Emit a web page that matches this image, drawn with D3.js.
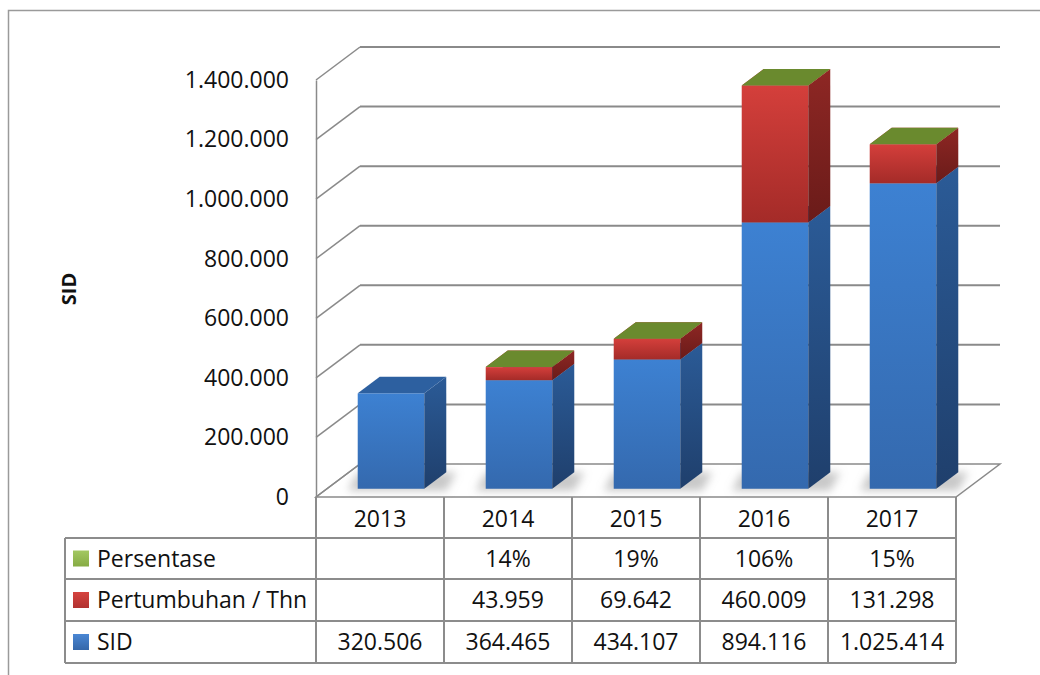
<!DOCTYPE html>
<html>
<head>
<meta charset="utf-8">
<script src="https://cdn.jsdelivr.net/npm/d3@7"></script>
<style>
  body { margin: 0; background: #fff; }
  svg { display: block; font-family: "Open Sans", "Liberation Sans", sans-serif; }
</style>
</head>
<body>
<div id="chart"></div>
<script>
// data
const years = ["2013", "2014", "2015", "2016", "2017"];
const sid = [320506, 364465, 434107, 894116, 1025414];
const pertumbuhan = [null, 43959, 69642, 460009, 131298];
const persentase = [null, 0.14, 0.19, 1.06, 0.15];
const yTicks = [0, 200000, 400000, 600000, 800000, 1000000, 1200000, 1400000];
const seriesNames = ["Persentase", "Pertumbuhan / Thn", "SID"];

const W = 1040, H = 675;
// 3d depth vector of the plot box
const DX = 44, DY = -33;
const FS = 23;

const idLocale = d3.formatLocale({ decimal: ",", thousands: ".", grouping: [3], currency: ["", ""] });
const fmtNum = idLocale.format(",d");
const fmtPct = d3.format(".0%");

const rows = years.map((yr, i) => ({
  year: yr,
  sid: sid[i],
  pert: pertumbuhan[i] || 0,
  pct: persentase[i] || 0
}));

const svg = d3.select("#chart").append("svg")
  .attr("width", W)
  .attr("height", H);

const defs = svg.append("defs");
function grad(id, c1, c2) {
  const g = defs.append("linearGradient").attr("id", id)
    .attr("x1", 0).attr("y1", 0).attr("x2", 0).attr("y2", 1);
  g.append("stop").attr("offset", "0%").attr("stop-color", c1);
  g.append("stop").attr("offset", "100%").attr("stop-color", c2);
}
grad("sidFront", "#3d81d2", "#3469ae");
grad("sidSide", "#2b5b97", "#1f3f6c");
grad("pertFront", "#d43f3b", "#a42b28");
grad("pertSide", "#8e2724", "#6a1b19");
grad("pctFront", "#80a23c", "#6a8a2e");
grad("pctSide", "#5d7826", "#4c6420");
grad("legGreen", "#a3c862", "#86ab44");
grad("legRed", "#d5433f", "#b13230");
grad("legBlue", "#4a87d4", "#3567a9");
defs.append("filter").attr("id", "blur")
  .attr("x", "-50%").attr("y", "-50%").attr("width", "200%").attr("height", "200%")
  .append("feGaussianBlur").attr("stdDeviation", 4);

const colors = {
  sid: { front: "url(#sidFront)", side: "url(#sidSide)", top: "#2d60a0" },
  pert: { front: "url(#pertFront)", side: "url(#pertSide)", top: "#b83431" },
  pct: { front: "url(#pctFront)", side: "url(#pctSide)", top: "#6a8a2e" }
};

// outer chart border
svg.append("rect")
  .attr("x", 8.5).attr("y", 10.5)
  .attr("width", W + 10).attr("height", H + 10)
  .attr("fill", "none").attr("stroke", "#9a9a9a").attr("stroke-width", 1.5);

// Scales (front plane)
const y = d3.scaleLinear().domain([0, 1400000]).range([497, 80]);
const cols = d3.scaleBand().domain(years).range([316, 956]);

const gridColor = "#8a8a8a";

// floor
const fy = y(0);
svg.append("polygon")
  .attr("points", [[316, fy], [956, fy], [956 + DX, fy + DY], [316 + DX, fy + DY]].join(" "))
  .attr("fill", "#fff").attr("stroke", gridColor).attr("stroke-width", 1.5);

// back wall gridlines and left wall diagonals
const grid = svg.append("g");
grid.selectAll("line.back")
  .data(yTicks.filter(d => d > 0))
  .join("line")
  .attr("class", "back")
  .attr("x1", 316 + DX).attr("x2", 956 + DX)
  .attr("y1", d => y(d) + DY).attr("y2", d => y(d) + DY)
  .attr("stroke", gridColor).attr("stroke-width", 2);
grid.selectAll("line.side")
  .data(yTicks)
  .join("line")
  .attr("class", "side")
  .attr("x1", 316).attr("x2", 316 + DX)
  .attr("y1", d => y(d)).attr("y2", d => y(d) + DY)
  .attr("stroke", gridColor).attr("stroke-width", 1.5);

// y axis
const yAxis = d3.axisLeft(y)
  .tickValues(yTicks)
  .tickSize(0)
  .tickSizeOuter(0)
  .tickPadding(27)
  .tickFormat(d => fmtNum(d));
const yG = svg.append("g")
  .attr("transform", "translate(316,0)")
  .call(yAxis);
yG.select(".domain").attr("stroke", gridColor).attr("stroke-width", 1.5);
yG.selectAll("text").attr("font-size", FS).attr("fill", "#111").attr("font-family", "Open Sans");

// axis title
svg.append("text")
  .attr("transform", "translate(76,289) rotate(-90)")
  .attr("text-anchor", "middle")
  .attr("font-size", 20)
  .attr("font-weight", "bold")
  .attr("fill", "#111")
  .text("SID");

// stacked 3d bars
const stack = d3.stack().keys(["sid", "pert", "pct"]);
const stacked = stack(rows);
const bw = cols.bandwidth();
const z0 = 0.25, zd = 0.5;

const shadowG = svg.append("g").attr("filter", "url(#blur)");
rows.forEach(r => {
  const bx0 = cols(r.year) + bw * 0.24 + DX * z0;
  const bx1 = bx0 + bw * 0.52;
  const by = y(0) + DY * z0;
  shadowG.append("polygon")
    .attr("points", [[bx0 - 10, by + 2], [bx1 + DX * zd, by + 2], [bx1 + DX * zd + 10, by + DY * zd], [bx0, by + DY * zd]].join(" "))
    .attr("fill", "#9a9a9a").attr("opacity", 0.55);
});

const barsG = svg.append("g");
years.forEach((yr, i) => {
  const g = barsG.append("g");
  const bx0 = cols(yr) + bw * 0.24 + DX * z0;
  const bx1 = bx0 + bw * 0.52;
  const ddx = DX * zd, ddy = DY * zd;
  stacked.forEach(layer => {
    const seg = layer[i];
    if (rows[i][layer.key] === 0) return;
    const c = colors[layer.key];
    const ya = y(seg[0]) + DY * z0;
    const yb = y(seg[1]) + DY * z0;
    // front
    g.append("rect")
      .attr("x", bx0).attr("y", yb)
      .attr("width", bx1 - bx0).attr("height", Math.max(0.01, ya - yb))
      .attr("fill", c.front);
    // side
    g.append("polygon")
      .attr("points", [[bx1, yb], [bx1 + ddx, yb + ddy], [bx1 + ddx, ya + ddy], [bx1, ya]].join(" "))
      .attr("fill", c.side);
    // top
    g.append("polygon")
      .attr("points", [[bx0, yb], [bx1, yb], [bx1 + ddx, yb + ddy], [bx0 + ddx, yb + ddy]].join(" "))
      .attr("fill", c.top);
  });
});

// data table
const tbl = svg.append("g");
const lineColor = "#8c8c8c";
const rowY = [497, 538, 579, 621, 663];
const tableLeft = 65;

// vertical column lines
tbl.selectAll("line.col")
  .data(years.concat(["end"]))
  .join("line")
  .attr("x1", (d, i) => 316 + i * cols.step())
  .attr("x2", (d, i) => 316 + i * cols.step())
  .attr("y1", rowY[0]).attr("y2", rowY[4])
  .attr("stroke", lineColor).attr("stroke-width", 2);
// horizontal lines
tbl.selectAll("line.row")
  .data(rowY.slice(1))
  .join("line")
  .attr("x1", tableLeft).attr("x2", 956)
  .attr("y1", d => d).attr("y2", d => d)
  .attr("stroke", lineColor).attr("stroke-width", 2);
tbl.append("line")
  .attr("x1", tableLeft).attr("x2", tableLeft)
  .attr("y1", rowY[1]).attr("y2", rowY[4])
  .attr("stroke", lineColor).attr("stroke-width", 2);

// header years
tbl.selectAll("text.year")
  .data(years)
  .join("text")
  .attr("x", d => cols(d) + bw / 2)
  .attr("y", (rowY[0] + rowY[1]) / 2 + 1)
  .attr("dy", "0.36em")
  .attr("text-anchor", "middle")
  .attr("font-size", FS).attr("fill", "#111")
  .text(d => d);

// table rows: legend + values
const tableRows = [
  { name: seriesNames[0], swatch: "url(#legGreen)", vals: persentase, fmt: fmtPct },
  { name: seriesNames[1], swatch: "url(#legRed)", vals: pertumbuhan, fmt: fmtNum },
  { name: seriesNames[2], swatch: "url(#legBlue)", vals: sid, fmt: fmtNum }
];
tableRows.forEach((tr, ri) => {
  const cy = (rowY[ri + 1] + rowY[ri + 2]) / 2;
  tbl.append("rect")
    .attr("x", 73).attr("y", cy - 8)
    .attr("width", 16).attr("height", 16)
    .attr("fill", tr.swatch);
  tbl.append("text")
    .attr("x", 97).attr("y", cy).attr("dy", "0.36em")
    .attr("font-size", FS).attr("fill", "#111")
    .text(tr.name);
  tbl.selectAll(null)
    .data(tr.vals.map((v, i) => ({ v, yr: years[i] })).filter(d => d.v !== null))
    .join("text")
    .attr("x", d => cols(d.yr) + bw / 2)
    .attr("y", cy).attr("dy", "0.36em")
    .attr("text-anchor", "middle")
    .attr("font-size", FS).attr("fill", "#111")
    .text(d => tr.fmt(d.v));
});
</script>
</body>
</html>
